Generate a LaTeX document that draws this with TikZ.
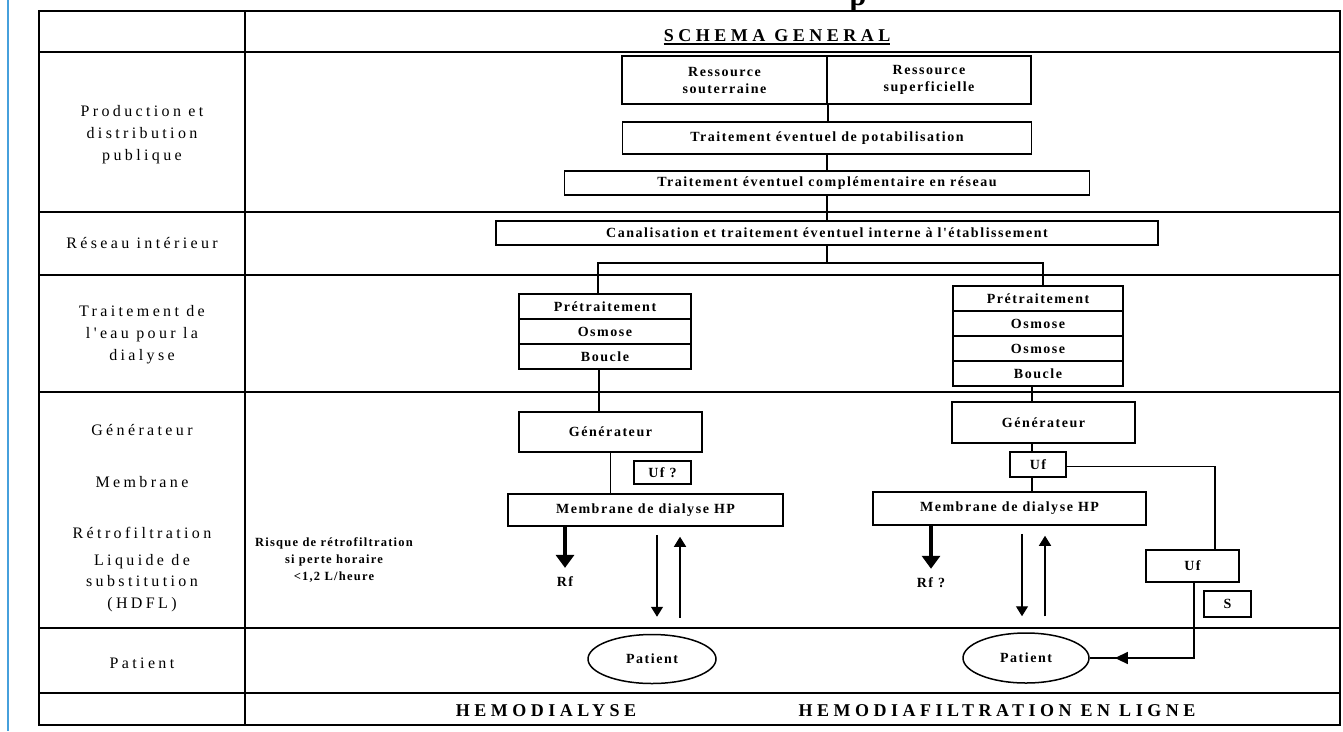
\documentclass[tikz,border=0pt]{standalone}
\usepackage{fontspec}
\setmainfont{Liberation Serif}
\newfontfamily\lblfamily[LetterSpace=21]{Liberation Serif}
\newfontfamily\boxfamily[LetterSpace=11]{Liberation Serif}
\newfontfamily\capfamily[LetterSpace=25]{Liberation Serif}
\newfontfamily\smallfamily[LetterSpace=10]{Liberation Serif}
\newcommand\mylblfont{\lblfamily\fontsize{16}{22}\selectfont}
\newcommand\myboxfont{\boxfamily\bfseries\fontsize{14}{17}\selectfont}
\newcommand\mycapfont{\capfamily\bfseries\fontsize{18}{20}\selectfont}
\newcommand\mysmallfont{\smallfamily\bfseries\fontsize{12.5}{17}\selectfont}
\usetikzlibrary{arrows.meta,shapes.geometric,decorations.markings}
\definecolor{pageblue}{RGB}{70,160,220}
\begin{document}
\begin{tikzpicture}[x=1pt,y=-1pt,
  every node/.style={inner sep=0pt},
  box/.style={draw,line width=1.5pt,align=center,font=\myboxfont},
  lbl/.style={align=center,font=\mylblfont},
  conn/.style={line width=1.5pt},
  thinarr/.style={line width=1.4pt,-{Triangle[width=12pt,length=10pt]}},
  thickarr/.style={line width=3.2pt,-{Triangle[width=18pt,length=13pt]}},
  tableline/.style={line width=2pt},
]
\useasboundingbox (0,0) rectangle (1343,731);
\fill[white] (0,0) rectangle (1343,731);
\draw[pageblue,line width=2pt] (8,0) -- (8,731);

% partial glyph cut at top
\node[font=\bfseries\fontsize{30}{30}\selectfont,anchor=base] (ptop) at (858,5) {p};

% table
\draw[line width=2.8pt] (39,11) rectangle (1340,725);
\foreach \yy in {52,212,275,392,628,693} \draw[tableline] (39,\yy) -- (1340,\yy);
\draw[line width=2.2pt] (245,11) -- (245,725);

% header
\node[font=\mycapfont,anchor=base] (title) at (777,41) {SCHEMA GENERAL};
\draw[line width=1.7pt] ([yshift=-3pt]title.base west) -- ([yshift=-3pt]title.base east);

% row labels
\node[lbl] (l1) at (142,135) {Production et\\distribution\\publique};
\node[lbl] (l2) at (142,243) {Réseau intérieur};
\node[lbl] (l3) at (142,335) {Traitement de\\l'eau pour la\\dialyse};
\node[lbl] (l4) at (142,430) {Générateur};
\node[lbl] (l5) at (142,482) {Membrane};
\node[lbl] (l6) at (142,533) {Rétrofiltration};
\node[lbl,font=\lblfamily\fontsize{16}{21.5}\selectfont] (l7) at (142,583) {Liquide de\\substitution\\(HDFL)};
\node[lbl] (l8) at (142,663) {Patient};

% common trunk
\node[box,minimum width=205pt,minimum height=48pt] (res1) at (724.5,80) {Ressource\\souterraine};
\node[box,minimum width=204pt,minimum height=48pt] (res2) at (929,80) {Ressource\\superficielle};
\node[box,minimum width=409pt,minimum height=32pt] (pot) at (827,138) {Traitement éventuel de potabilisation};
\node[box,minimum width=525pt,minimum height=24pt] (comp) at (827,183) {Traitement éventuel complémentaire en réseau};
\node[box,minimum width=662pt,minimum height=24pt] (canal) at (827,233) {Canalisation et traitement éventuel interne à l'établissement};
\draw[conn] (res1.south east) -- (res1.south east |- pot.north);
\draw[conn] (pot.south) -- (comp.north);
\draw[conn] (comp.south) -- (canal.north);
\draw[conn] (canal.south) -- ++(0,17) coordinate (split);

% water treatment stacks
\node[box,minimum width=172pt,minimum height=25pt] (pt1) at (605,306.5) {Prétraitement};
\node[box,minimum width=172pt,minimum height=25pt] (os1) at (605,331.5) {Osmose};
\node[box,minimum width=172pt,minimum height=25pt] (bo1) at (605,356.5) {Boucle};
\node[box,minimum width=170pt,minimum height=25pt] (pt2) at (1038,298.5) {Prétraitement};
\node[box,minimum width=170pt,minimum height=25pt] (os2) at (1038,323.5) {Osmose};
\node[box,minimum width=170pt,minimum height=25pt] (os3) at (1038,348.5) {Osmose};
\node[box,minimum width=170pt,minimum height=25pt] (bo2) at (1038,373.5) {Boucle};
\draw[conn] ([xshift=-7pt]pt1.north) |- (split) -| ([xshift=5pt]pt2.north);

% hemodialyse column
\node[box,minimum width=183pt,minimum height=40pt] (gen1) at (610.5,432) {Générateur};
\node[box,minimum width=57pt,minimum height=23pt] (ufq) at (662.5,472.5) {Uf ?};
\node[box,minimum width=275pt,minimum height=32pt] (mem1) at (645.5,510) {Membrane de dialyse HP};
\draw[conn] ([xshift=-6pt]bo1.south) -- ([xshift=-6pt]bo1.south |- gen1.north);
\draw[conn] (gen1.south) -- (gen1.south |- mem1.north);
\node[font=\myboxfont] (rf1) at (565,582) {Rf};
\draw[thickarr] (mem1.south -| rf1) -- ([yshift=9pt]rf1.north);
\node[ellipse,draw,line width=1.5pt,minimum width=128pt,minimum height=49pt,font=\myboxfont] (pat1) at (652,659) {Patient};
\coordinate (a1) at (657,0);
\coordinate (a2) at (680,0);
\draw[thinarr,shorten <=8pt,shorten >=17pt] (mem1.south -| a1) -- (pat1.north -| a1);
\draw[thinarr,shorten <=16pt,shorten >=10pt] (pat1.north -| a2) -- (mem1.south -| a2);
\node[font=\mysmallfont,align=center] (risk) at (334,560) {Risque de rétrofiltration\\si perte horaire\\<1,2 L/heure};

% hemodiafiltration column
\node[box,minimum width=183pt,minimum height=41pt] (gen2) at (1043.5,422.5) {Générateur};
\node[box,minimum width=56pt,minimum height=25pt] (uf2) at (1038,464.5) {Uf};
\node[box,minimum width=273pt,minimum height=33pt] (mem2) at (1009.5,508.5) {Membrane de dialyse HP};
\node[box,minimum width=93pt,minimum height=32pt] (uf3) at (1192.5,566) {Uf};
\node[box,minimum width=47pt,minimum height=26pt] (sbox) at (1227.5,604) {S};
\draw[conn] ([xshift=-6pt]bo2.south) -- ([xshift=-6pt]bo2.south |- gen2.north);
\draw[conn] ([xshift=-6pt]uf2.north) -- ([xshift=-6pt]uf2.north |- gen2.south);
\draw[conn] ([xshift=-6pt]uf2.south) -- ([xshift=-6pt]uf2.south |- mem2.north);
\draw[conn] ([yshift=-2pt]uf2.east) -| ([xshift=22.5pt]uf3.north);
\node[font=\myboxfont] (rf2) at (931,583) {Rf ?};
\draw[thickarr] (mem2.south -| rf2) -- ([yshift=9pt]rf2.north);
\node[ellipse,draw,line width=1.5pt,minimum width=126pt,minimum height=50pt,font=\myboxfont] (pat2) at (1026,658) {Patient};
\coordinate (b1) at (1022,0);
\coordinate (b2) at (1045,0);
\draw[thinarr,shorten <=8pt,shorten >=16pt] (mem2.south -| b1) -- (pat2.north -| b1);
\draw[thinarr,shorten <=16pt,shorten >=10pt] (pat2.north -| b2) -- (mem2.south -| b2);
\draw[conn,postaction={decorate},decoration={markings,mark=at position 0.86 with {\arrow{Triangle[width=12pt,length=13pt]}}}] ([xshift=1.5pt]uf3.south) |- (pat2.east);

% footer
\node[font=\mycapfont,anchor=base] (hd) at (546,716) {HEMODIALYSE};
\node[font=\mycapfont,anchor=base] (hdf) at (997,716) {HEMODIAFILTRATION EN LIGNE};
\end{tikzpicture}
\end{document}
